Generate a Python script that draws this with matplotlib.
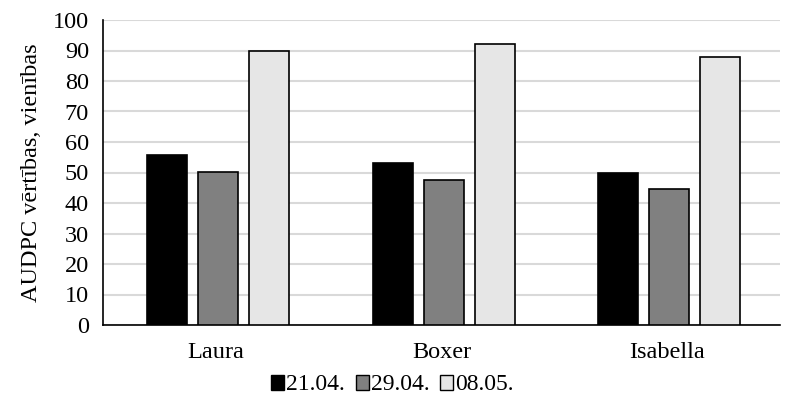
import numpy as np
import matplotlib.pyplot as plt
from matplotlib.patches import Patch

plt.rcParams['font.family'] = ['Liberation Serif', 'DejaVu Serif']

varieties = ['Laura', 'Boxer', 'Isabella']
dates = ['21.04.', '29.04.', '08.05.']
d2104 = [55.6, 53.2, 49.8]
d2904 = [50.3, 47.6, 44.7]
d0805 = [90.0, 92.2, 87.9]
colors = ['#000000', '#808080', '#e6e6e6']

fig = plt.figure(figsize=(7.85, 4.01), dpi=100)
ax = fig.add_axes([103/785, 1-325/401, 677/785, 305/401])

x = np.arange(len(varieties))
w = 0.177
step = 0.226
series = [d2104, d2904, d0805]
for i, vals in enumerate(series):
    ax.bar(x + (i-1)*step + 0.01, vals, width=w, color=colors[i], edgecolor='black',
           linewidth=1.2, zorder=3)

ax.set_xlim(-0.5, 2.5)
ax.set_ylim(0, 100)
ax.set_yticks(np.arange(0, 101, 10))
ax.set_xticks(x)
ax.set_xticklabels(varieties)
ax.tick_params(axis='both', labelsize=17.5, length=0)
ax.tick_params(axis='x', pad=12)
ax.tick_params(axis='y', pad=10)
ax.grid(axis='y', color='#d9d9d9', linewidth=1.5, zorder=0)
for s in ['top', 'right']:
    ax.spines[s].set_visible(False)
ax.spines['left'].set_linewidth(1.2)
ax.spines['bottom'].set_linewidth(1.2)
ax.set_ylabel('AUDPC vērtības, vienības', fontsize=17.5, labelpad=8)

handles = [Patch(facecolor=c, edgecolor='black', linewidth=1) for c in colors]
fig.legend(handles, dates, loc='center', bbox_to_anchor=(0.5, 1-385/401),
           ncol=3, frameon=False, fontsize=17, handlelength=0.55, handleheight=0.6,
           handletextpad=0.1, columnspacing=0.45, borderpad=0)

fig.savefig('out.png', dpi=100)
